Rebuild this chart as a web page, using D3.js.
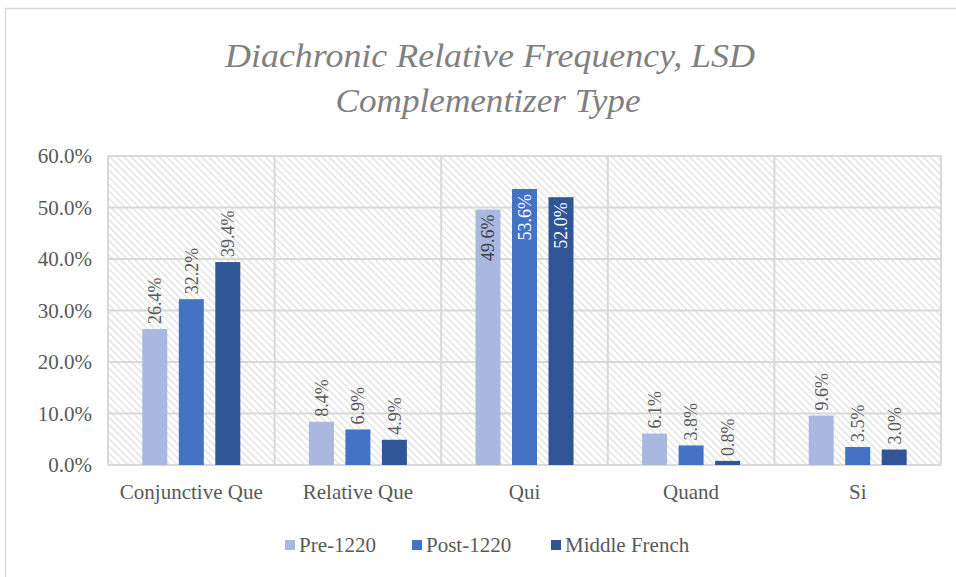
<!DOCTYPE html>
<html>
<head>
<meta charset="utf-8">
<script src="https://cdn.jsdelivr.net/npm/d3@7"></script>
<style>
  body { margin: 0; background: #fff; }
  text { font-family: "Liberation Serif", "DejaVu Serif", serif; fill: #595959; }
</style>
</head>
<body>
<div id="chart-area"></div>
<script>
// Data
var categories = ["Conjunctive Que", "Relative Que", "Qui", "Quand", "Si"];
var seriesNames = ["Pre-1220", "Post-1220", "Middle French"];
var pre1220 = [26.4, 8.4, 49.6, 6.1, 9.6];
var post1220 = [32.2, 6.9, 53.6, 3.8, 3.5];
var middleFrench = [39.4, 4.9, 52.0, 0.8, 3.0];
var yTicks = [0, 10, 20, 30, 40, 50, 60];
var colors = ["#a9b8de", "#4472c4", "#2f5597"];

var seriesValues = [pre1220, post1220, middleFrench];

var W = 956, H = 577;
var margin = { left: 108, right: 15, top: 156, bottom: 112 };
var width = W - margin.left - margin.right,
    height = H - margin.top - margin.bottom;

var svg = d3.select("#chart-area").append("svg")
    .attr("width", W)
    .attr("height", H);

// hatch pattern
var defs = svg.append("defs");
defs.append("pattern")
    .attr("id", "hatch")
    .attr("patternUnits", "userSpaceOnUse")
    .attr("width", 5)
    .attr("height", 5)
    .attr("patternTransform", "rotate(-45)")
  .append("line")
    .attr("x1", 0).attr("y1", 0)
    .attr("x2", 0).attr("y2", 5)
    .attr("stroke", "#dedede")
    .attr("stroke-width", 2.5);

// outer chart border
svg.append("rect")
    .attr("x", 5.5).attr("y", 8.5)
    .attr("width", W + 20).attr("height", H + 20)
    .attr("fill", "none")
    .attr("stroke", "#d9d9d9")
    .attr("stroke-width", 1.5);

// Title
var title = svg.append("text")
    .attr("text-anchor", "middle")
    .attr("font-style", "italic")
    .attr("font-size", "34px")
    .style("fill", "#808080");
title.append("tspan").attr("x", 490).attr("y", 67)
    .attr("textLength", 530).attr("lengthAdjust", "spacingAndGlyphs")
    .text("Diachronic Relative Frequency, LSD");
title.append("tspan").attr("x", 488).attr("y", 112)
    .attr("textLength", 305).attr("lengthAdjust", "spacingAndGlyphs")
    .text("Complementizer Type");

var g = svg.append("g")
    .attr("transform", "translate(" + margin.left + "," + margin.top + ")");

// Scales
var x0 = d3.scaleBand().domain(categories).range([0, width]);
var groupW = 98;
var x1 = d3.scaleBand().domain(seriesNames)
    .range([(x0.bandwidth() - groupW) / 2, (x0.bandwidth() + groupW) / 2])
    .paddingInner(0.315);
var y = d3.scaleLinear().domain([0, 60]).range([height, 0]);

// background hatch
g.append("rect")
    .attr("width", width).attr("height", height)
    .attr("fill", "url(#hatch)");

// horizontal gridlines
g.selectAll(".hgrid").data(yTicks).enter().append("line")
    .attr("class", "hgrid")
    .attr("x1", 0).attr("x2", width)
    .attr("y1", function(d) { return y(d); })
    .attr("y2", function(d) { return y(d); })
    .attr("stroke", "#d9d9d9")
    .attr("stroke-width", 2);

// vertical gridlines at category boundaries
var bounds = categories.map(function(c) { return x0(c); }).concat([width]);
g.selectAll(".vgrid").data(bounds).enter().append("line")
    .attr("class", "vgrid")
    .attr("y1", 0).attr("y2", height)
    .attr("x1", function(d) { return d; })
    .attr("x2", function(d) { return d; })
    .attr("stroke", "#d9d9d9")
    .attr("stroke-width", 2);

// Y axis
var yAxisCall = d3.axisLeft(y)
    .tickValues(yTicks)
    .tickSize(0)
    .tickPadding(16)
    .tickFormat(function(d) { return d3.format(".1f")(d) + "%"; });
var yAxis = g.append("g").attr("class", "y axis").call(yAxisCall);
yAxis.select(".domain").remove();
yAxis.selectAll("text").attr("font-size", "21px")
    .style("font-family", "'Liberation Serif', serif").style("fill", "#595959");

// X axis labels
var xAxisCall = d3.axisBottom(x0).tickSize(0).tickPadding(19);
var xAxis = g.append("g").attr("class", "x axis")
    .attr("transform", "translate(0," + height + ")")
    .call(xAxisCall);
xAxis.select(".domain").remove();
xAxis.selectAll("text").attr("font-size", "21px")
    .style("font-family", "'Liberation Serif', serif").style("fill", "#595959");

// Bars
var rows = [];
categories.forEach(function(c, i) {
    seriesNames.forEach(function(s, j) {
        rows.push({ cat: c, series: s, idx: j, value: seriesValues[j][i] });
    });
});

var groups = g.selectAll(".bar").data(rows).enter();
groups.append("rect")
    .attr("class", "bar")
    .attr("x", function(d) { return x0(d.cat) + x1(d.series); })
    .attr("width", x1.bandwidth())
    .attr("y", function(d) { return y(d.value); })
    .attr("height", function(d) { return height - y(d.value); })
    .attr("fill", function(d) { return colors[d.idx]; });

// Data labels (rotated)
groups.append("text")
    .attr("transform", function(d) {
        var cx = x0(d.cat) + x1(d.series) + x1.bandwidth() / 2;
        var inside = d.value > 45;
        var yy = inside ? y(d.value) + 5 : y(d.value) - 5;
        return "translate(" + cx + "," + yy + ") rotate(-90)";
    })
    .attr("text-anchor", function(d) { return d.value > 45 ? "end" : "start"; })
    .attr("dy", "0.35em")
    .attr("font-size", "18px")
    .style("fill", function(d) {
        if (d.value > 45) return d.idx === 0 ? "#404040" : "#ffffff";
        return "#595959";
    })
    .text(function(d) { return d3.format(".1f")(d.value) + "%"; });

// Legend
var legend = svg.append("g").attr("transform", "translate(0,545)");
var legendX = [285, 412, 551];
seriesNames.forEach(function(s, i) {
    legend.append("rect")
        .attr("x", legendX[i]).attr("y", -5)
        .attr("width", 10).attr("height", 10)
        .attr("fill", colors[i]);
    legend.append("text")
        .attr("x", legendX[i] + 14).attr("y", 0)
        .attr("dy", "0.35em")
        .attr("font-size", "21px")
        .text(s);
});
</script>
</body>
</html>
